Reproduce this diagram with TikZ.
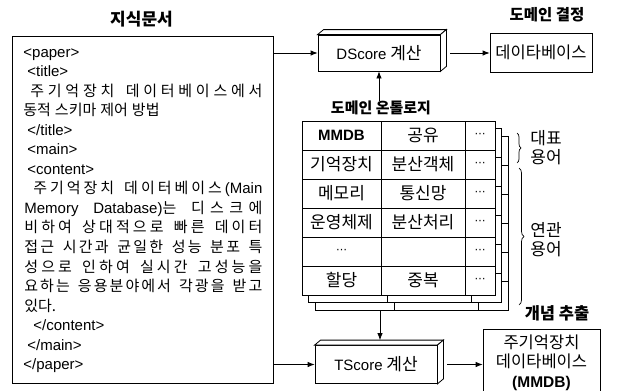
\documentclass[tikz,border=0pt]{standalone}
\usepackage{fontspec}
\setmainfont{Noto Sans CJK KR}
\newfontfamily\lat{Liberation Sans}
\newfontfamily\dv{DejaVu Sans}
\usetikzlibrary{arrows.meta,decorations.pathreplacing,calc}
\newcommand\chs{\hskip 0pt plus 1fil\relax}
\newcommand\wds{\hskip 4pt plus 2fil\relax}
\newcommand\wsp{\hskip 4pt\relax}
\newcommand\tg[1]{{\lat\fontsize{15}{17}\selectfont #1}}
\newcommand\dts{{\dv\fontsize{11}{12}\selectfont ⋯}}
\newcommand\ontgrid[2]{%
  \begin{scope}[shift={(#1,#2)}]
    \draw[fill=white] (302,121) rectangle (495,295);
    \foreach \yy in {150,179,208,237,266} \draw (302,\yy) -- (495,\yy);
    \draw (381,121) -- (381,295);
    \draw (465,121) -- (465,295);
  \end{scope}}
\begin{document}
\begin{tikzpicture}[x=1pt,y=-1pt,line width=0.8pt,
  every node/.style={inner sep=0pt},
  arr/.style={-{Latex[length=7pt,width=5.5pt]}},
  boxnode/.style={draw,fill=white,inner sep=0pt},
  ttl/.style={font=\fontsize{#1}{18}\selectfont\bfseries},
  ttl/.default=16,
  lbl/.style={font=\fontsize{17}{19}\selectfont},
  doctxt/.style={anchor=base west,font=\fontsize{15}{17}\selectfont},
  brc/.style={decorate,line width=0.7pt},
]
\useasboundingbox (0,0) rectangle (625,391);

% ---- document box ----
\node[ttl=17] (doctitle) at (141.5,19) {지식문서};
\node[draw,minimum width=261pt,minimum height=347pt] (doc) at (142.5,209.5) {};
\node[doctxt] (d0) at (23,57) {\tg{<paper>}};
\node[doctxt] (d1) at (27,76.55) {\tg{<title>}};
\node[doctxt] (d2) at (30,96.1) {\makebox[232pt][s]{주\chs 기\chs 억\chs 장\chs 치\wds 데\chs 이\chs 터\chs 베\chs 이\chs 스\chs 에\chs 서}};
\node[doctxt] (d3) at (23,115.65) {동적\wsp 스키마\wsp 제어\wsp 방법};
\node[doctxt] (d4) at (27,135.2) {\tg{</title>}};
\node[doctxt] (d5) at (27,154.75) {\tg{<main>}};
\node[doctxt] (d6) at (27,174.3) {\tg{<content>}};
\node[doctxt] (d7) at (33,193.85) {\makebox[229pt][s]{주\chs 기\chs 억\chs 장\chs 치\wds 데\chs 이\chs 터\chs 베\chs 이\chs 스\chs \tg{(Main}}};
\node[doctxt] (d8) at (24,213.4) {\makebox[238pt][s]{\tg{Memory}\wds\tg{Database)}는\wds 디\chs 스\chs 크\chs 에}};
\node[doctxt] (d9) at (24,232.95) {\makebox[238pt][s]{비\chs 하\chs 여\wds 상\chs 대\chs 적\chs 으\chs 로\wds 빠\chs 른\wds 데\chs 이\chs 터}};
\node[doctxt] (d10) at (24,252.5) {\makebox[238pt][s]{접\chs 근\wds 시\chs 간\chs 과\wds 균\chs 일\chs 한\wds 성\chs 능\wds 분\chs 포\wds 특}};
\node[doctxt] (d11) at (24,272.05) {\makebox[238pt][s]{성\chs 으\chs 로\wds 인\chs 하\chs 여\wds 실\chs 시\chs 간\wds 고\chs 성\chs 능\chs 을}};
\node[doctxt] (d12) at (24,291.6) {\makebox[238pt][s]{요\chs 하\chs 는\wds 응\chs 용\chs 분\chs 야\chs 에\chs 서\wds 각\chs 광\chs 을\wds 받\chs 고}};
\node[doctxt] (d13) at (24,311.15) {있다.};
\node[doctxt] (d14) at (33,330.7) {\tg{</content>}};
\node[doctxt] (d15) at (27,350.25) {\tg{</main>}};
\node[doctxt] (d16) at (23,369.8) {\tg{</paper>}};

% ---- DScore ----
\node[boxnode,minimum width=122pt,minimum height=36pt,lbl] (ds) at (379,53) {\tg{DScore} 계산};
\draw[fill=white] (ds.north west) -- ++(6,-5) -- ($(ds.north east)+(6,-5)$) -- (ds.north east) -- cycle;
\draw[fill=white] (ds.north east) -- ++(6,-5) -- ($(ds.south east)+(6,-5)$) -- (ds.south east) -- cycle;

\node[ttl=15.5] (dectitle) at (547,15) {도메인 결정};
\node[boxnode,minimum width=102pt,minimum height=39pt,font=\fontsize{16.5}{18}\selectfont] (db) at (541,52.5) {데이타베이스};

\draw[arr] (doc.east |- ds.west) -- (ds.west);
\coordinate (dse) at ($(ds.east)+(10,0)$);
\draw[arr] (dse) -- (db.west |- dse);

% ---- ontology ----
\node[ttl=15] (ont) at (381,108) {도메인 온톨로지};
\draw[arr] (ont.north -| ds.south) -- (ds.south);

\ontgrid{13}{15}
\ontgrid{6.5}{7.5}
\ontgrid{0}{0}

\foreach \yy/\a/\b in {135.5/{{\lat\bfseries\fontsize{15}{17}\selectfont MMDB}}/공유,164.5/기억장치/분산객체,193.5/메모리/통신망,222.5/운영체제/분산처리,251.5/\dts/{},280.5/할당/중복}{
  \node[lbl] at (341.5,\yy) {\a};
  \node[lbl] at (423,\yy) {\b};
  \node[lbl] at (480,\yy) {\dts};
}

\draw[brc,decoration={brace,amplitude=4pt}] (517,133) -- (517,163);
\draw[brc,decoration={brace,amplitude=5pt}] (519,168) -- (519,305);
\node[align=center,font=\fontsize{17}{19}\selectfont] (rep) at (546,147.5) {대표\\용어};
\node[align=center,font=\fontsize{17}{19}\selectfont] (rel) at (546,240) {연관\\용어};

% ---- TScore ----
\node[boxnode,minimum width=122pt,minimum height=38pt,lbl] (ts) at (376,364.5) {\tg{TScore} 계산};
\draw[fill=white] (ts.north west) -- ++(6,-5) -- ($(ts.north east)+(6,-5)$) -- (ts.north east) -- cycle;
\draw[fill=white] (ts.north east) -- ++(6,-5) -- ($(ts.south east)+(6,-5)$) -- (ts.south east) -- cycle;

\coordinate (tbot) at (380,311);
\coordinate (tstop) at ($(ts.north)+(0,-5)$);
\draw[arr] (tbot) -- (tbot |- tstop);

\node[ttl=16.5] (contitle) at (557,313) {개념 추출};
\node[boxnode,minimum width=117pt,minimum height=67pt,align=center,font=\fontsize{16.5}{19.5}\selectfont] (res) at (541.5,362.5) {주기억장치\\데이타베이스\\{\lat\bfseries\fontsize{15.5}{17}\selectfont (MMDB)}};

\draw[arr] (doc.east |- ts.west) -- (ts.west);
\coordinate (tse) at ($(ts.east)+(10,0)$);
\draw[arr] (tse) -- (res.west |- tse);
\end{tikzpicture}
\end{document}
